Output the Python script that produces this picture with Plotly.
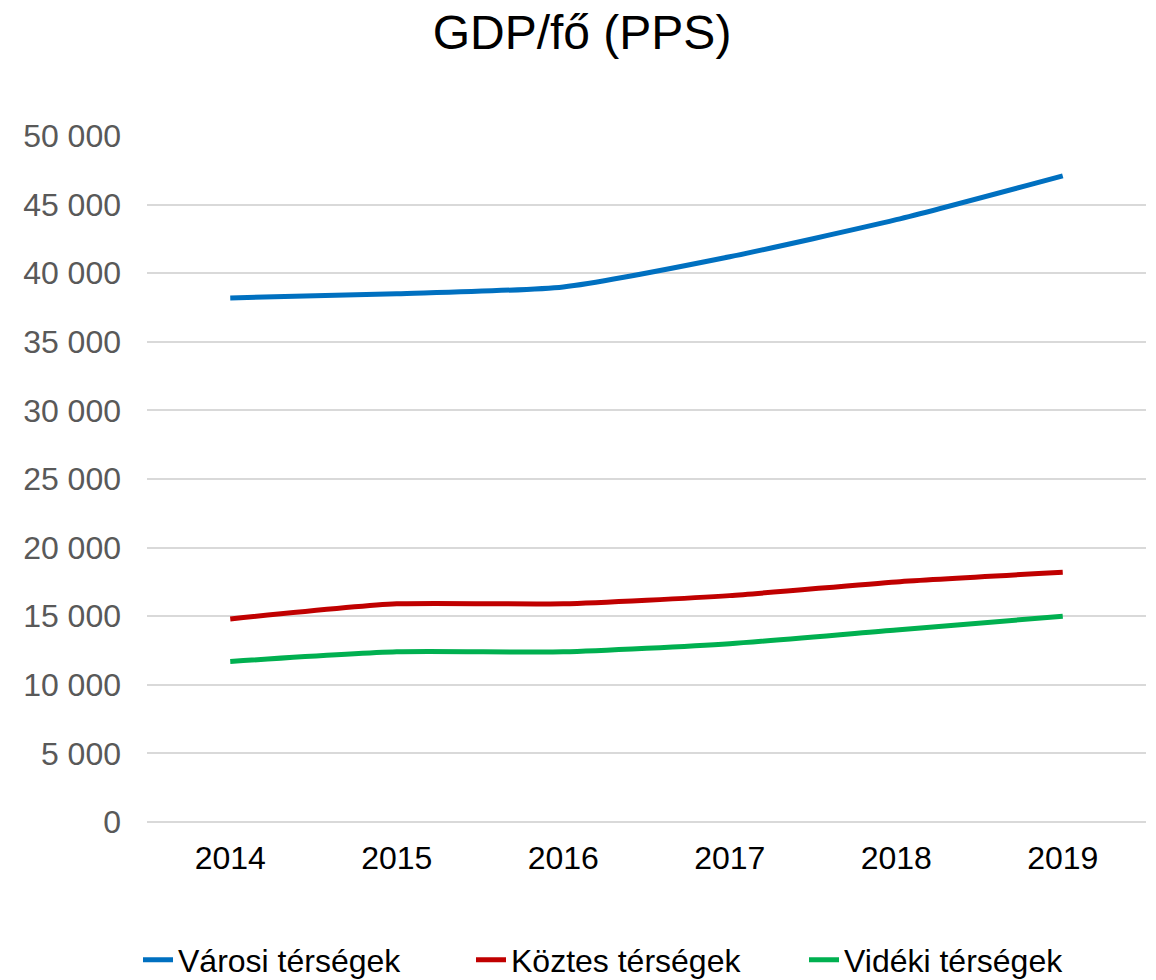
import plotly.graph_objects as go

years = ["2014", "2015", "2016", "2017", "2018", "2019"]
varosi = [38200, 38500, 39000, 41200, 43900, 47100]
koztes = [14800, 15900, 15900, 16500, 17500, 18200]
videki = [11700, 12400, 12400, 13000, 14000, 15000]

series = [
    ("Városi térségek", varosi, "#0070C0"),
    ("Köztes térségek", koztes, "#C00000"),
    ("Vidéki térségek", videki, "#00B050"),
]

FONT = "Liberation Sans, Arial, sans-serif"
W, H = 1148, 972  # page body has an 8px margin

fig = go.Figure()
for name, vals, col in series:
    fig.add_trace(go.Scatter(
        x=years, y=vals, name=name, mode="lines",
        line=dict(color=col, width=5, shape="spline", smoothing=0.6),
    ))

fig.update_layout(
    width=W, height=H,
    margin=dict(l=139, r=10, t=128, b=158, autoexpand=False),
    paper_bgcolor="white", plot_bgcolor="white",
    separators=", ",
    font=dict(family=FONT, size=32, color="#000000"),
    title=dict(text="GDP/fő (PPS)", x=0.5, xref="container", xanchor="center",
               y=1 - 24 / H, yref="container", yanchor="middle",
               font=dict(family=FONT, size=48, color="#000000")),
    legend=dict(orientation="h", x=130 / W, xanchor="left", xref="container",
                y=1 - 952 / H, yanchor="middle", yref="container",
                font=dict(family=FONT, size=32, color="#000000"),
                entrywidth=288, entrywidthmode="pixels", tracegroupgap=0),
    showlegend=True,
)
fig.update_xaxes(
    type="category", range=[-0.5, 5.5], showgrid=False, showline=False,
    ticks="", tickfont=dict(family=FONT, size=32, color="#000000"),
    ticklabelstandoff=14,
)
fig.update_yaxes(
    range=[0, 50000], dtick=5000, tickformat=",d",
    showgrid=True, gridcolor="#D9D9D9", gridwidth=1.5,
    zeroline=True, zerolinecolor="#D9D9D9", zerolinewidth=1.5,
    showline=False, ticks="",
    tickfont=dict(family=FONT, size=32, color="#595959"),
    ticklabelstandoff=25,
)

fig.write_html("out.html")
